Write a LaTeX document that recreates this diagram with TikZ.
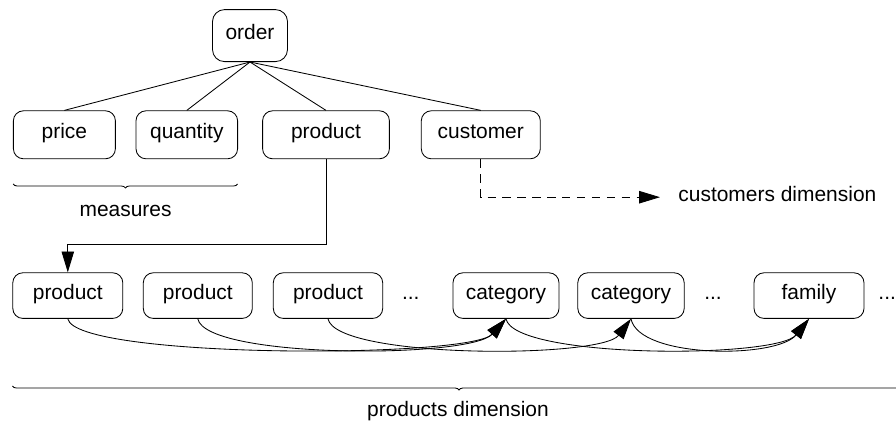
\documentclass[tikz,border=0pt]{standalone}
\usepackage{fontspec}
\setmainfont{Liberation Sans}
\usetikzlibrary{arrows.meta,decorations.pathreplacing}

\begin{document}
\begin{tikzpicture}[
	font=\fontsize{14.9}{17.9}\selectfont,
	line width=0.6pt,
	txt/.style={text height=0.75em, text depth=0.2em},
	box/.style={txt, draw, rounded corners=0.25cm, minimum width=2.75cm, minimum height=1.14cm, inner sep=0pt},
	link/.style={-{Triangle[length=0.52cm, width=0.31cm]}},
	brc/.style={decorate, decoration={brace, mirror, amplitude=0.1cm}}
]
	\useasboundingbox (0,0) rectangle (22.4,10.65);

	\node[box, minimum width=1.875cm, minimum height=1.3cm, rounded corners=0.3cm] (order) at (6.25,9.76) {order};

	\node[box, minimum width=2.55cm, minimum height=1.2cm] (price) at (1.61,7.28) {price};
	\node[box, minimum width=2.54cm, minimum height=1.2cm] (quantity) at (4.67,7.28) {quantity};
	\node[box, minimum width=3.17cm, minimum height=1.2cm] (product) at (8.15,7.28) {product};
	\node[box, minimum width=2.975cm, minimum height=1.2cm] (customer) at (12.02,7.28) {customer};

	\draw (order.south) -- (price.north);
	\draw (order.south) -- (quantity.north);
	\draw (order.south) -- (product.north);
	\draw (order.south) -- (customer.north);

	\draw[brc] (0.33,6.05) -- (5.94,6.05);
	\node[txt] (measures) at (3.14,5.33) {measures};

	\node[txt, anchor=west, inner xsep=0.45cm] (custdim) at (16.5,5.72) {customers dimension};
	\draw[link, dash pattern=on 6pt off 4.6pt] (customer.south) |- (custdim.west);

	\node[box] (prod1) at (1.695,3.26) {product};
	\node[box, minimum width=2.725cm] (prod2) at (4.945,3.26) {product};
	\node[box, minimum width=2.735cm] (prod3) at (8.2,3.26) {product};
	\node[txt] (dots1) at (10.27,3.26) {...};
	\node[box, minimum width=2.65cm] (cat1) at (12.65,3.26) {category};
	\node[box, minimum width=2.66cm] (cat2) at (15.775,3.26) {category};
	\node[txt] (dots2) at (17.825,3.26) {...};
	\node[box] (family) at (20.225,3.26) {family};
	\node[txt, inner sep=0pt] (dots3) at (22.18,3.26) {...};

	\draw[link] (product.south) -- ++(0,-2.13) -| (prod1.north);

	\draw[link] (prod1.south) .. controls +(0.2,-1) and +(-0.9,-1) .. (cat1.south);
	\draw[link] (prod2.south) .. controls +(0.2,-1) and +(-0.9,-1) .. (cat1.south);
	\draw[link] (prod3.south) .. controls +(0.2,-1) and +(-0.75,-1) .. (cat2.south);
	\draw[link] (cat1.south) .. controls +(0.2,-1) and +(-0.8,-1) .. (family.south);
	\draw[link] (cat2.south) .. controls +(0.2,-1) and +(-0.8,-1) .. (family.south);

	\draw[brc] (0.31,1.0) -- (22.64,1.0);
	\node[txt] (proddim) at (11.45,0.33) {products dimension};
\end{tikzpicture}
\end{document}
